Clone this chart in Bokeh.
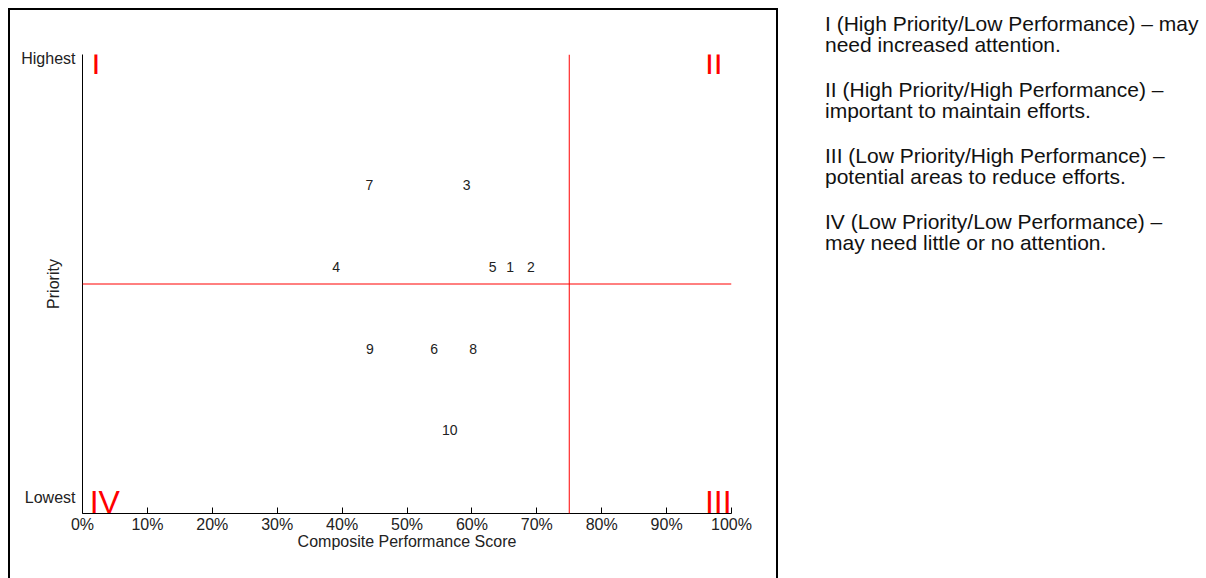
from bokeh.plotting import figure
from bokeh.models import Label, Span, FixedTicker, PrintfTickFormatter, Div, Range1d
from bokeh.layouts import row
from bokeh.core.properties import value
from bokeh.embed import file_html
from bokeh.resources import INLINE

# ---- data ----
item_ids = ["1", "2", "3", "4", "5", "6", "7", "8", "9", "10"]
performance = [65.9, 69.1, 59.2, 39.1, 63.2, 54.2, 44.2, 60.2, 44.3, 56.6]   # Composite Performance Score (%)
priority = [53.6, 53.6, 71.5, 53.6, 53.6, 35.9, 71.5, 35.9, 35.9, 18.3]      # Priority (0 = lowest, 100 = highest)
x_ticks = [0, 10, 20, 30, 40, 50, 60, 70, 80, 90, 100]
y_ticks = [3.5, 99.1]
y_tick_labels = ["Lowest", "Highest"]
performance_threshold = 75
priority_midpoint = 50
quadrant_names = ["I", "II", "III", "IV"]
legend_lines = [
    ("I (High Priority/Low Performance) \u2013 may", "need increased attention."),
    ("II (High Priority/High Performance) \u2013", "important to maintain efforts."),
    ("III (Low Priority/High Performance) \u2013", "potential areas to reduce efforts."),
    ("IV (Low Priority/Low Performance) \u2013", "may need little or no attention."),
]

FONT = "Liberation Sans"
TXT = "#222222"

p = figure(width=770, height=570, x_range=Range1d(0, 100), y_range=Range1d(0, 100),
           output_backend="svg", toolbar_location=None, margin=(8, 0, 0, 8),
           min_border_left=72, min_border_right=49, min_border_top=44, min_border_bottom=67,
           styles={"border-left": "2px solid black", "border-top": "2px solid black",
                   "border-right": "2px solid black", "box-sizing": "border-box"})
p.outline_line_color = None
p.grid.visible = False
p.background_fill_color = "white"
p.border_fill_color = "white"

# x axis
xa = p.xaxis[0]
xa.ticker = FixedTicker(ticks=x_ticks)
xa.formatter = PrintfTickFormatter(format="%d%%")
xa.major_tick_in = 6
xa.major_tick_out = 0
xa.minor_tick_line_color = None
xa.axis_line_color = "black"
xa.major_tick_line_color = "black"
xa.major_label_text_font = FONT
xa.major_label_text_font_size = "16px"
xa.major_label_text_color = TXT
xa.major_label_standoff = 2
xa.axis_label = "Composite Performance Score"
xa.axis_label_text_font = FONT
xa.axis_label_text_font_size = "16px"
xa.axis_label_text_font_style = "normal"
xa.axis_label_text_color = TXT
xa.axis_label_standoff = -3

# y axis
ya = p.yaxis[0]
ya.ticker = FixedTicker(ticks=y_ticks)
ya.major_label_overrides = {t: l for t, l in zip(y_ticks, y_tick_labels)}
ya.major_tick_line_color = None
ya.minor_tick_line_color = None
ya.axis_line_color = "black"
ya.major_label_text_font = FONT
ya.major_label_text_font_size = "16px"
ya.major_label_text_color = TXT
ya.major_label_standoff = 1
ya.axis_label = "Priority"
ya.axis_label_text_font = FONT
ya.axis_label_text_font_size = "16px"
ya.axis_label_text_font_style = "normal"
ya.axis_label_text_color = TXT
ya.axis_label_standoff = -44

# quadrant dividers
p.add_layout(Span(location=performance_threshold, dimension="height", line_color="red", line_width=1))
p.add_layout(Span(location=priority_midpoint, dimension="width", line_color="red", line_width=1))

# quadrant names
q_pos = [(1.4, 98.15), (95.9, 98.15), (95.9, 2.5), (1.1, 2.5)]
for name, (qx, qy) in zip(quadrant_names, q_pos):
    p.add_layout(Label(x=qx, y=qy, text=name, text_align="left", text_baseline="middle",
                       text_font=FONT, text_font_size="32px", text_color="red"))

# items
p.text(x=performance, y=priority, text=item_ids, text_font=value(FONT), text_font_size="14px",
       text_align="center", text_baseline="middle", text_color=TXT)

html = "".join(
    f'<p style="margin:0 0 24px 0;">{a}<br>{b}</p>' for a, b in legend_lines
)
div = Div(text=html, width=373, height=300, margin=(13, 0, 0, 47),
          styles={"font-family": "'Liberation Sans', Arial, sans-serif", "font-size": "21px",
                  "line-height": "21px", "color": "#111111", "white-space": "nowrap"})

layout = row(p, div)
open("out.html", "w").write(file_html(layout, INLINE))
